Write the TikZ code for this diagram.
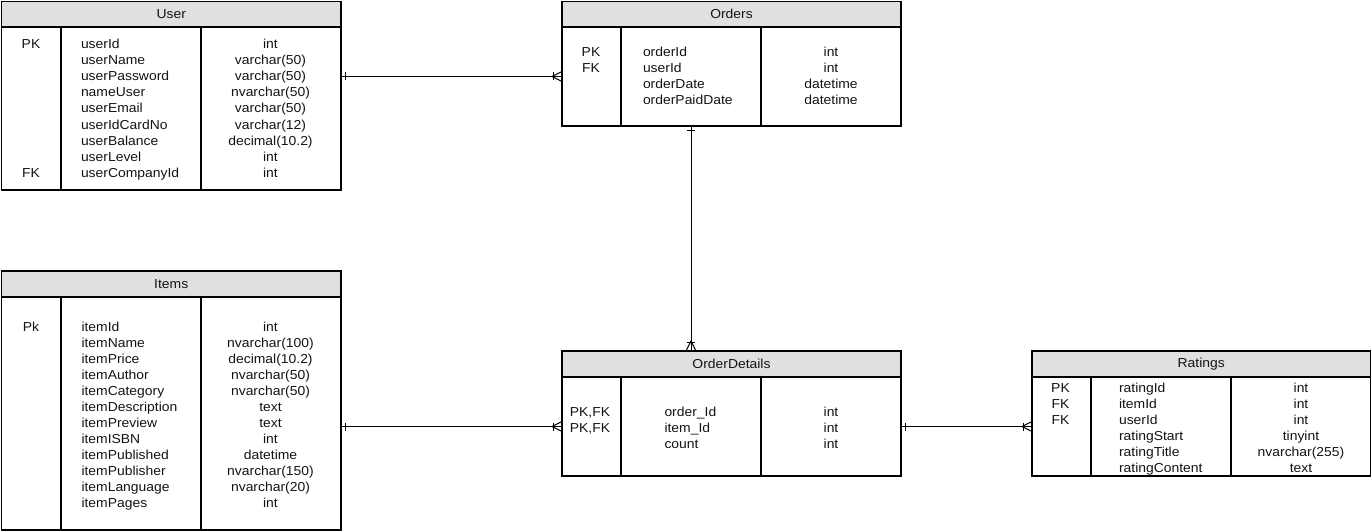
\documentclass[tikz,border=0pt]{standalone}
\usepackage{fontspec}
\setmainfont{Liberation Sans}[FakeStretch=1.07]
\usetikzlibrary{calc}
\definecolor{hdrgray}{RGB}{224,224,224}
\definecolor{txtc}{RGB}{20,20,20}
\tikzset{
  tbox/.style={draw=black, line width=1.3pt, inner sep=0pt, outer sep=0pt, anchor=north west},
  hdr/.style={tbox, fill=hdrgray, text=txtc, font=\fontsize{13}{15}\selectfont},
  col/.style={tbox, fill=white},
  txt/.style={inner sep=0pt, outer sep=0pt, text=txtc, font=\fontsize{13}{15}\selectfont},
  conn/.style={draw=black, line width=1pt},
}
% #1 name, #2 x1, #3 top, #4 header bottom, #5 bottom, #6 div1, #7 div2, #8 x2, #9 title
\newcommand\ertable[9]{%
  \node[hdr, minimum width={#8-#2}, minimum height={#4-#3}] (#1-h) at (#2,#3) {#9};
  \node[col, minimum width={#6-#2}, minimum height={#5-#4}] (#1-k) at (#2,#4) {};
  \node[col, minimum width={#7-#6}, minimum height={#5-#4}] (#1-n) at (#6,#4) {};
  \node[col, minimum width={#8-#7}, minimum height={#5-#4}] (#1-t) at (#7,#4) {};
}
\newcommand\erone[2]{\begin{scope}[shift={(#1)}, rotate=#2]
  \draw[conn] (4,-4) -- (4,4);\end{scope}}
\newcommand\ermany[2]{\begin{scope}[shift={(#1)}, rotate=#2]
  \draw[conn] (9,-4) -- (9,4);
  \draw[conn] (0,-5) -- (10,0) -- (0,5);\end{scope}}
\begin{document}
\begin{tikzpicture}[x=1pt, y=-1pt]
\fill[white] (0,0) rectangle (1372,532);
\useasboundingbox (0,0) rectangle (1372,532);

% tables
\ertable{user}{1.5}{1.5}{27}{190}{61}{201}{341}{User}
\ertable{orders}{562}{1.5}{27}{126}{621}{761}{901}{Orders}
\ertable{items}{1.5}{271}{297}{530}{61}{201}{341}{Items}
\ertable{od}{562}{351}{377}{476}{621}{761}{901}{OrderDetails}
\ertable{rt}{1032}{351}{377}{476}{1091}{1231}{1370.5}{Ratings}

% User
\node[txt, anchor=base] (user-k0) at (31,49) {PK};
\node[txt, anchor=base] (user-k8) at (31,177) {FK};
\foreach \s [count=\i from 0] in {userId,userName,userPassword,nameUser,userEmail,userIdCardNo,userBalance,userLevel,userCompanyId}
  \node[txt, anchor=base west] (user-n\i) at (81,49+16*\i) {\s};
\foreach \s [count=\i from 0] in {int,varchar(50),varchar(50),nvarchar(50),varchar(50),varchar(12),decimal(10.2),int,int}
  \node[txt, anchor=base] (user-t\i) at (270.5,49+16*\i) {\s};

% Orders
\node[txt, anchor=base] (orders-k0) at (591,57) {PK};
\node[txt, anchor=base] (orders-k1) at (591,73) {FK};
\foreach \s [count=\i from 0] in {orderId,userId,orderDate,orderPaidDate}
  \node[txt, anchor=base west] (orders-n\i) at (643,57+16*\i) {\s};
\foreach \s [count=\i from 0] in {int,int,datetime,datetime}
  \node[txt, anchor=base] (orders-t\i) at (831,57+16*\i) {\s};

% Items
\node[txt, anchor=base] (items-k0) at (31,331) {Pk};
\foreach \s [count=\i from 0] in {itemId,itemName,itemPrice,itemAuthor,itemCategory,itemDescription,itemPreview,itemISBN,itemPublished,itemPublisher,itemLanguage,itemPages}
  \node[txt, anchor=base west] (items-n\i) at (81.5,331+16*\i) {\s};
\foreach \s [count=\i from 0] in {int,nvarchar(100),decimal(10.2),nvarchar(50),nvarchar(50),text,text,int,datetime,nvarchar(150),nvarchar(20),int}
  \node[txt, anchor=base] (items-t\i) at (270.5,331+16*\i) {\s};

% OrderDetails
\node[txt, anchor=base] (od-k0) at (590,416) {PK,FK};
\node[txt, anchor=base] (od-k1) at (590,432) {PK,FK};
\foreach \s [count=\i from 0] in {order\_Id,item\_Id,count}
  \node[txt, anchor=base west] (od-n\i) at (664.5,416+16*\i) {\s};
\foreach \s [count=\i from 0] in {int,int,int}
  \node[txt, anchor=base] (od-t\i) at (831,416+16*\i) {\s};

% Ratings
\node[txt, anchor=base] (rt-k0) at (1060.5,392) {PK};
\node[txt, anchor=base] (rt-k1) at (1060.5,408) {FK};
\node[txt, anchor=base] (rt-k2) at (1060.5,424) {FK};
\foreach \s [count=\i from 0] in {ratingId,itemId,userId,ratingStart,ratingTitle,ratingContent}
  \node[txt, anchor=base west] (rt-n\i) at (1119,392+16*\i) {\s};
\foreach \s [count=\i from 0] in {int,int,int,tinyint,nvarchar(255),text}
  \node[txt, anchor=base] (rt-t\i) at (1301,392+16*\i) {\s};

% connectors
\coordinate (c1a) at (orders-k.west -| user-t.east);
\coordinate (c1b) at (orders-k.west);
\draw[conn] (c1a) -- (c1b);
\erone{c1a}{0}
\ermany{c1b}{180}

\coordinate (c2a) at (orders-n.south);
\coordinate (c2b) at (od-h.north -| orders-n.south);
\draw[conn] (c2a) -- (c2b);
\erone{c2a}{-90}
\ermany{c2b}{90}

\coordinate (c3a) at (od-k.west -| items-t.east);
\coordinate (c3b) at (od-k.west);
\draw[conn] (c3a) -- (c3b);
\erone{c3a}{0}
\ermany{c3b}{180}

\coordinate (c4a) at (od-t.east);
\coordinate (c4b) at (rt-k.west);
\draw[conn] (c4a) -- (c4b);
\erone{c4a}{0}
\ermany{c4b}{180}
\end{tikzpicture}
\end{document}
